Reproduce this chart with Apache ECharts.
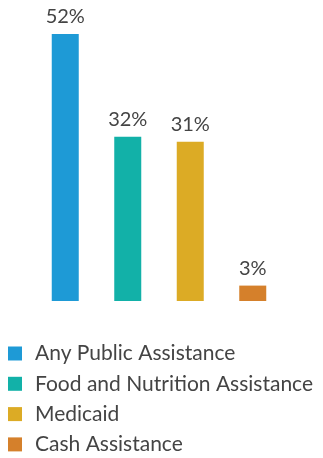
<!DOCTYPE html>
<html>
<head>
<meta charset="utf-8">
<style>
  html, body { margin: 0; padding: 0; background: #fff; }
  #chart { width: 323px; height: 458px; }
</style>
<script src="https://cdn.jsdelivr.net/npm/echarts@6/dist/echarts.min.js"></script>
</head>
<body>
<div id="chart"></div>
<script>
// Share of respondents receiving each type of assistance (%)
const categories = ['Any Public Assistance', 'Food and Nutrition Assistance', 'Medicaid', 'Cash Assistance'];
const values = [52, 32, 31, 3];
const colors = ['#1e9ad6', '#12b1a8', '#dcab25', '#d5802b'];

const chart = echarts.init(document.getElementById('chart'));

// One series per category, stacked so each bar sits centred in its own slot
const series = categories.map((name, i) => ({
  name: name,
  type: 'bar',
  stack: 'all',
  barWidth: 27,
  itemStyle: { color: colors[i] },
  label: {
    show: true,
    position: 'top',
    distance: 7,
    formatter: p => p.value + '%',
    fontFamily: 'Lato',
    fontSize: 20,
    color: '#444'
  },
  data: values.map((v, j) => (j === i ? v : null))
}));

chart.setOption({
  animation: false,
  grid: { left: 34, right: 39, top: 34, bottom: 157 },
  xAxis: {
    type: 'category',
    data: categories,
    show: false
  },
  yAxis: {
    type: 'value',
    min: 0,
    max: 52,
    show: false
  },
  legend: {
    orient: 'vertical',
    left: 8,
    top: 343,
    height: 115,
    padding: 0,
    icon: 'rect',
    itemWidth: 14,
    itemHeight: 14,
    itemGap: 9.3,
    textStyle: {
      fontFamily: 'Lato',
      fontSize: 21,
      lineHeight: 21,
      color: '#444',
      padding: [0, 0, 0, 8]
    },
    data: categories
  },
  series: series
});
</script>
</body>
</html>
